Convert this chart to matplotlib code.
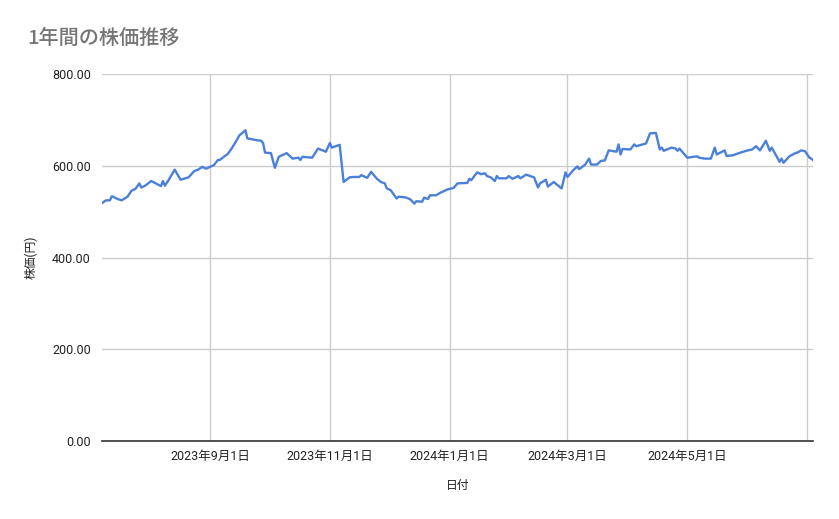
import numpy as np
import pandas as pd
import matplotlib
matplotlib.use('Agg')
import matplotlib.pyplot as plt
import matplotlib.dates as mdates
from matplotlib.ticker import FixedLocator, FuncFormatter

plt.rcParams['font.family'] = ['Roboto', 'Noto Sans CJK JP', 'DejaVu Sans']

# values
dates = [
    '2023-07-08', '2023-07-10', '2023-07-12', '2023-07-13', '2023-07-16', '2023-07-18',
    '2023-07-21', '2023-07-23', '2023-07-25', '2023-07-27', '2023-07-28', '2023-07-30',
    '2023-08-02', '2023-08-03', '2023-08-07', '2023-08-08', '2023-08-09', '2023-08-11',
    '2023-08-14', '2023-08-17', '2023-08-21', '2023-08-24', '2023-08-26', '2023-08-28',
    '2023-08-30', '2023-09-01', '2023-09-03', '2023-09-05', '2023-09-06', '2023-09-08',
    '2023-09-10', '2023-09-12', '2023-09-14', '2023-09-16', '2023-09-18', '2023-09-19',
    '2023-09-20', '2023-09-25', '2023-09-27', '2023-09-28', '2023-09-29', '2023-10-02',
    '2023-10-04', '2023-10-06', '2023-10-10', '2023-10-13', '2023-10-16', '2023-10-17',
    '2023-10-18', '2023-10-23', '2023-10-26', '2023-10-30', '2023-11-01', '2023-11-02',
    '2023-11-06', '2023-11-08', '2023-11-11', '2023-11-13', '2023-11-16', '2023-11-17',
    '2023-11-20', '2023-11-22', '2023-11-25', '2023-11-27', '2023-11-29', '2023-11-30',
    '2023-12-02', '2023-12-05', '2023-12-06', '2023-12-10', '2023-12-12', '2023-12-14',
    '2023-12-15', '2023-12-18', '2023-12-19', '2023-12-21', '2023-12-22', '2023-12-25',
    '2023-12-27', '2023-12-31', '2024-01-03', '2024-01-05', '2024-01-10', '2024-01-11',
    '2024-01-12', '2024-01-15', '2024-01-17', '2024-01-19', '2024-01-20', '2024-01-22',
    '2024-01-24', '2024-01-25', '2024-01-26', '2024-01-30', '2024-01-31', '2024-02-02',
    '2024-02-05', '2024-02-06', '2024-02-09', '2024-02-13', '2024-02-15', '2024-02-16',
    '2024-02-19', '2024-02-20', '2024-02-23', '2024-02-27', '2024-02-29', '2024-03-01',
    '2024-03-04', '2024-03-06', '2024-03-07', '2024-03-10', '2024-03-12', '2024-03-13',
    '2024-03-16', '2024-03-18', '2024-03-20', '2024-03-22', '2024-03-26', '2024-03-27',
    '2024-03-28', '2024-03-29', '2024-04-02', '2024-04-04', '2024-04-05', '2024-04-10',
    '2024-04-12', '2024-04-15', '2024-04-17', '2024-04-18', '2024-04-19', '2024-04-23',
    '2024-04-25', '2024-04-26', '2024-04-27', '2024-05-01', '2024-05-06', '2024-05-07',
    '2024-05-10', '2024-05-13', '2024-05-15', '2024-05-16', '2024-05-20', '2024-05-21',
    '2024-05-24', '2024-05-28', '2024-05-31', '2024-06-03', '2024-06-05', '2024-06-07',
    '2024-06-10', '2024-06-12', '2024-06-13', '2024-06-17', '2024-06-18', '2024-06-19',
    '2024-06-22', '2024-06-25', '2024-06-26', '2024-06-28', '2024-06-30', '2024-07-02',
    '2024-07-04',
]
prices = [
    519, 525, 525, 534, 528, 525,
    533, 546, 550, 562, 553, 557,
    567, 565, 556, 567, 557, 570,
    592, 570, 575, 589, 592, 598,
    594, 598, 602, 613, 613, 620,
    626, 638, 652, 667, 674, 678,
    660, 656, 655, 650, 629, 628,
    596, 620, 628, 616, 618, 613,
    620, 618, 638, 631, 650, 640,
    646, 565, 575, 576, 576, 580,
    574, 587, 572, 565, 562, 551,
    547, 529, 533, 531, 527, 518,
    523, 522, 531, 528, 536, 536,
    541, 549, 552, 562, 563, 572,
    569, 586, 582, 584, 578, 575,
    567, 578, 573, 573, 578, 572,
    578, 573, 581, 575, 553, 562,
    570, 555, 565, 551, 586, 576,
    591, 599, 593, 603, 616, 603,
    603, 611, 612, 634, 631, 647,
    625, 637, 636, 647, 643, 649,
    671, 672, 636, 640, 633, 640,
    638, 633, 638, 618, 621, 618,
    616, 616, 640, 625, 634, 622,
    623, 629, 633, 636, 643, 634,
    655, 633, 640, 609, 616, 607,
    621, 628, 629, 634, 632, 619,
    613,
]
tick_dates = ['2023-09-01', '2023-11-01', '2024-01-01', '2024-03-01', '2024-05-01']
grid_only_dates = ['2024-07-01']
y_ticks = [0, 200, 400, 600, 800]

x = pd.to_datetime(dates)

fig = plt.figure(figsize=(8.39, 5.19), dpi=100)
ax = fig.add_axes([0.1216, 0.150, 0.8474, 0.707])

ax.plot(x, prices, color='#4a80d8', linewidth=1.7, solid_joinstyle='round', zorder=3)

ax.set_xlim(x[0], x[-1])
ax.set_ylim(0, 800)

ax.xaxis.set_major_locator(FixedLocator(mdates.date2num(pd.to_datetime(tick_dates))))
ax.xaxis.set_minor_locator(FixedLocator(mdates.date2num(pd.to_datetime(grid_only_dates))))
ax.xaxis.set_major_formatter(FuncFormatter(
    lambda v, p: '{0}年{1}月{2}日'.format(mdates.num2date(v).year, mdates.num2date(v).month, mdates.num2date(v).day)))
ax.set_yticks(y_ticks)
ax.yaxis.set_major_formatter(FuncFormatter(lambda v, p: '%.2f' % v))

ax.grid(True, which='both', axis='x', color='#cccccc', linewidth=1)
ax.grid(True, which='major', axis='y', color='#cccccc', linewidth=1)
ax.set_axisbelow(True)

for s in ['top', 'right', 'left']:
    ax.spines[s].set_visible(False)
ax.spines['bottom'].set_color('#333333')
ax.spines['bottom'].set_linewidth(1.2)
ax.spines['bottom'].set_zorder(4)

ax.tick_params(axis='both', which='both', length=0, labelsize=9, labelcolor='#222222')
ax.tick_params(axis='x', pad=6)
ax.tick_params(axis='y', pad=8)

ax.set_xlabel('日付', fontsize=8.5, color='#222222', labelpad=12)
ax.set_ylabel('株価(円)', fontsize=8.5, color='#222222', labelpad=10)

fig.text(0.032, 0.926, '1年間の株価推移', fontsize=14.5, color='#757575',
         ha='left', va='center', weight='medium', family=['Noto Sans CJK JP', 'DejaVu Sans'])

fig.savefig('out.png', dpi=100)
